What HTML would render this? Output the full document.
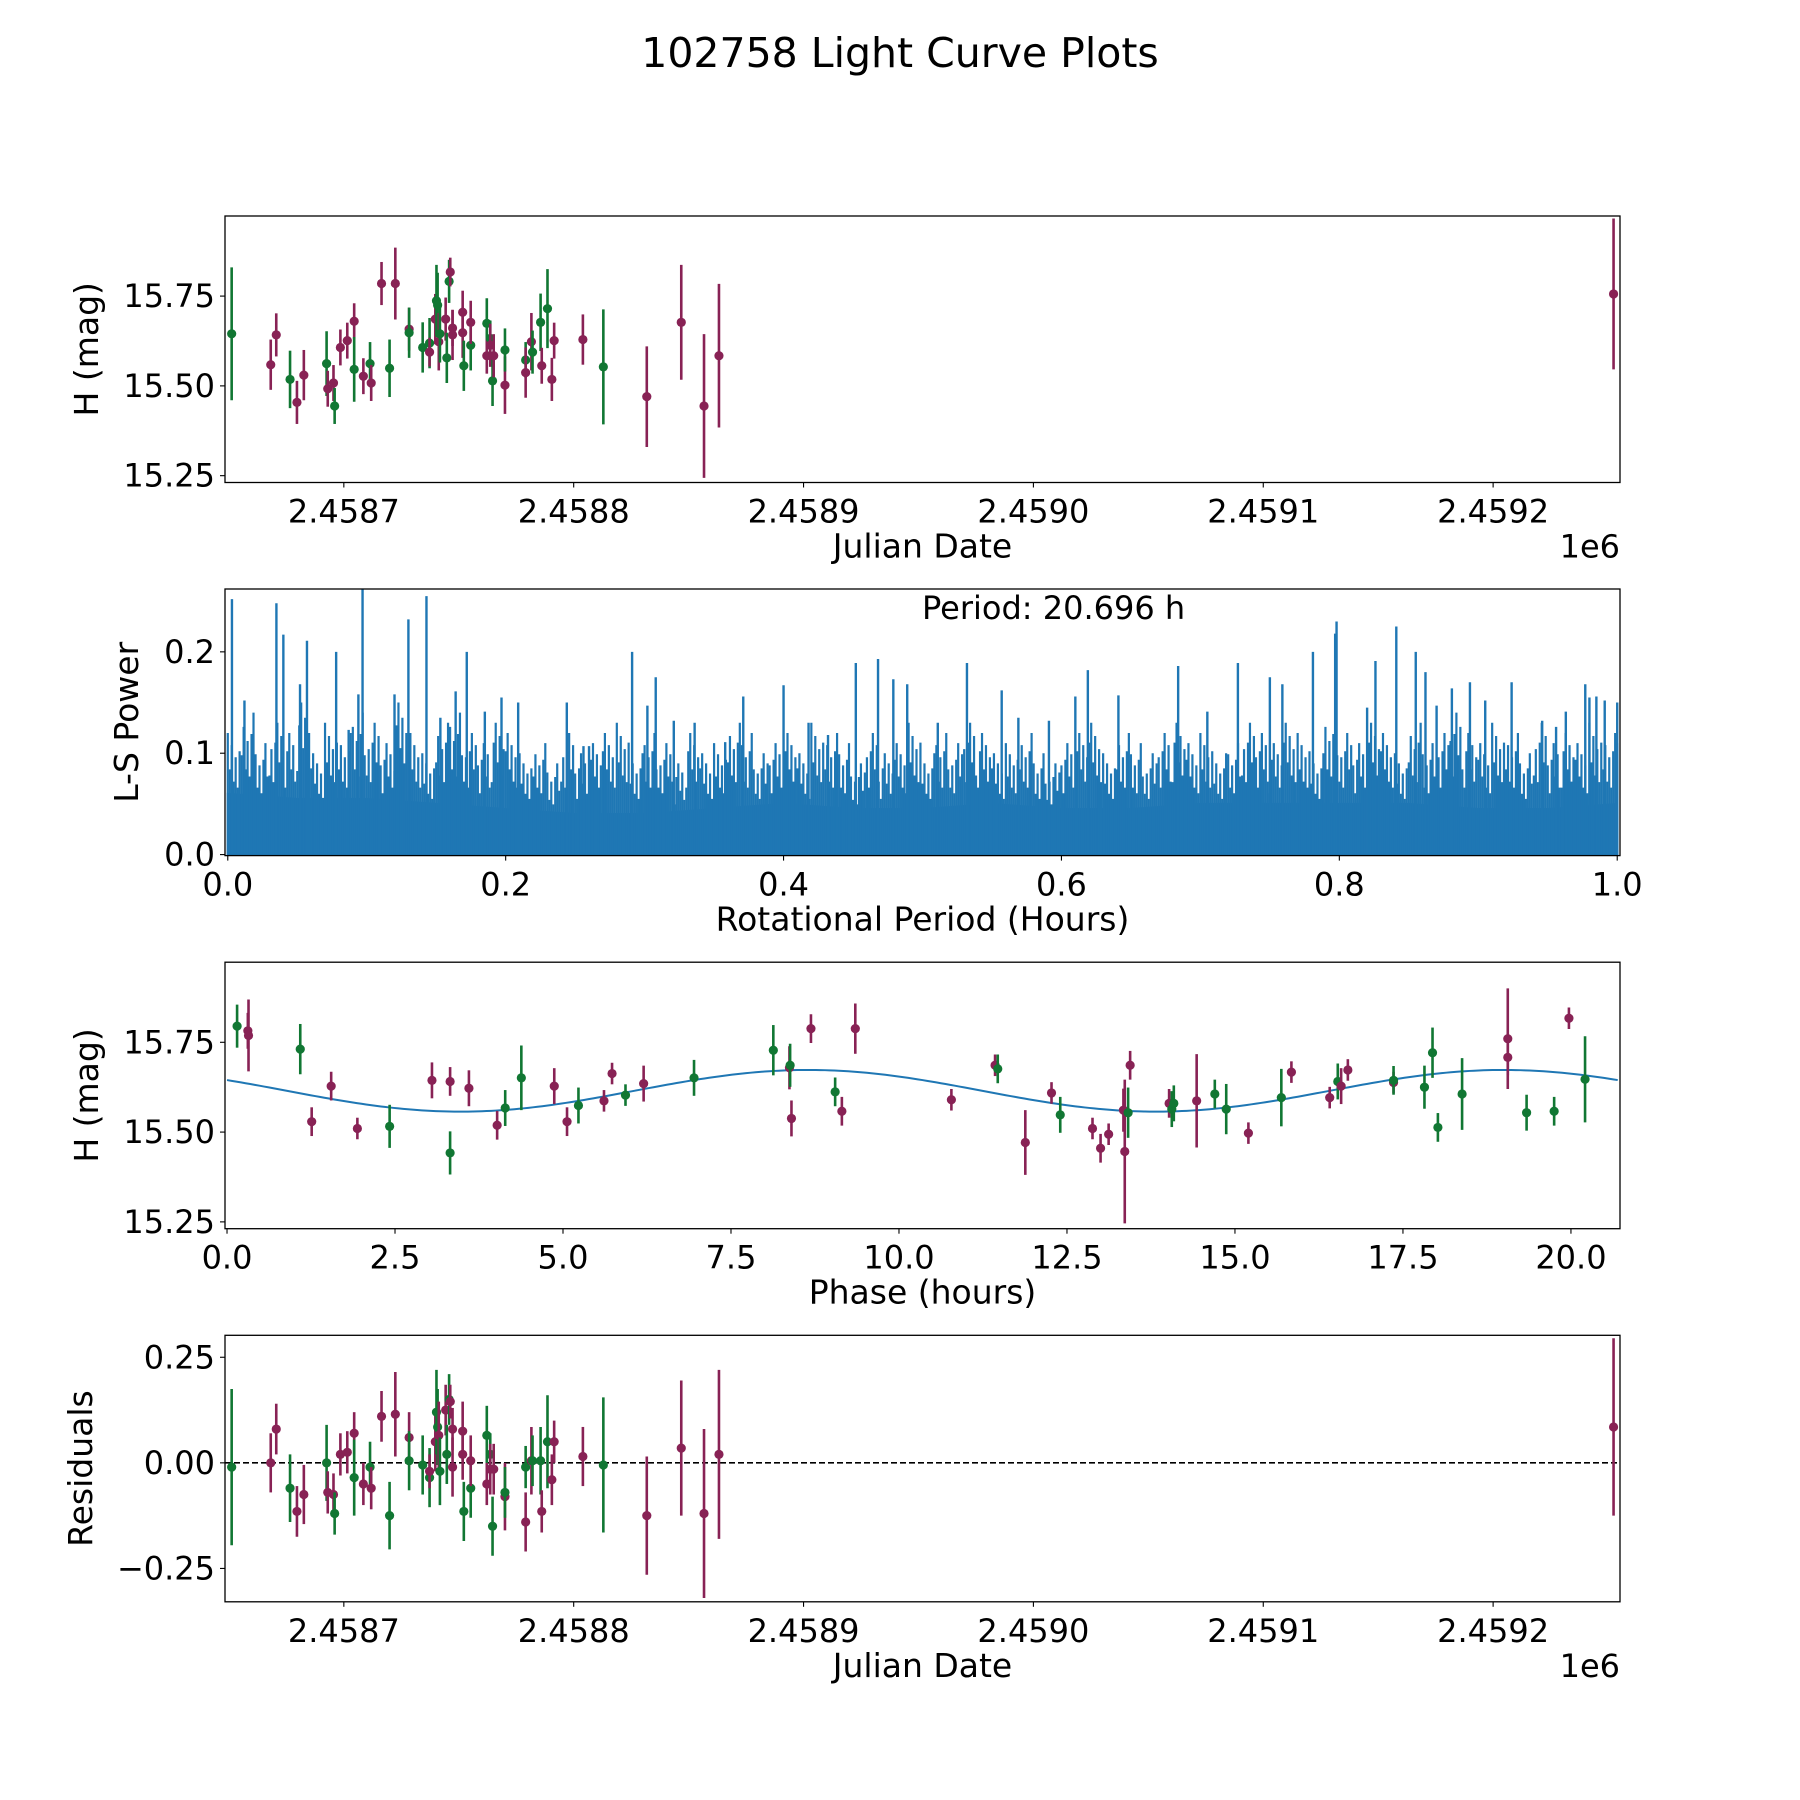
<!DOCTYPE html>
<html><head><meta charset="utf-8"><style>
html,body{margin:0;padding:0;background:#fff;}
svg{display:block;font-family:"DejaVu Sans","Liberation Sans",sans-serif;}
</style></head><body>
<svg id="fig" width="1800" height="1800" viewBox="0 0 1800 1800" xmlns="http://www.w3.org/2000/svg">
<rect width="1800" height="1800" fill="#fff"/>
<text x="900" y="67" font-size="41" text-anchor="middle">102758 Light Curve Plots</text>
</svg>
<script>
// ---- Light curve data (Julian Date, H mag, error, filter) ----
const jd = [2458651.2,2458668.2,2458670.6,2458676.6,2458679.6,2458682.6,2458692.5,2458693.0,2458695.5,2458696.0,2458698.5,2458701.5,2458704.5,2458704.5,2458708.5,2458711.4,2458711.9,2458716.4,2458719.9,2458722.4,2458728.4,2458728.4,2458734.3,2458737.3,2458737.3,2458739.8,2458740.3,2458740.8,2458741.3,2458741.8,2458744.3,2458744.8,2458745.8,2458746.3,2458747.3,2458747.3,2458751.7,2458751.7,2458752.2,2458755.2,2458755.2,2458762.2,2458762.2,2458763.7,2458763.7,2458764.7,2458765.2,2458770.1,2458770.1,2458779.1,2458779.1,2458781.6,2458782.1,2458785.6,2458786.1,2458788.6,2458790.5,2458791.5,2458804.0,2458812.9,2458831.8,2458846.8,2458856.7,2458863.2,2459252.4];
const hmag = [15.645,15.559,15.642,15.518,15.454,15.530,15.562,15.492,15.508,15.444,15.607,15.626,15.680,15.546,15.527,15.562,15.508,15.785,15.549,15.785,15.658,15.648,15.607,15.619,15.594,15.686,15.737,15.725,15.623,15.645,15.686,15.578,15.791,15.817,15.661,15.642,15.648,15.705,15.556,15.613,15.677,15.674,15.584,15.632,15.613,15.514,15.584,15.502,15.600,15.572,15.537,15.623,15.594,15.677,15.556,15.715,15.518,15.626,15.629,15.553,15.470,15.677,15.444,15.584,15.756];
const herr = [0.185,0.07,0.06,0.08,0.06,0.07,0.09,0.05,0.05,0.05,0.05,0.05,0.05,0.09,0.05,0.06,0.05,0.06,0.08,0.1,0.06,0.07,0.07,0.07,0.04,0.07,0.1,0.09,0.08,0.08,0.06,0.07,0.06,0.04,0.05,0.07,0.07,0.06,0.07,0.07,0.06,0.07,0.05,0.05,0.06,0.07,0.06,0.08,0.06,0.05,0.07,0.08,0.06,0.08,0.05,0.11,0.06,0.05,0.07,0.16,0.14,0.16,0.2,0.2,0.21];
const filt = ["g","m","m","g","m","m","g","m","m","g","m","m","m","g","m","g","m","m","g","m","m","g","g","g","m","m","g","g","m","g","m","g","g","m","m","m","m","m","g","g","m","g","m","g","m","g","m","m","g","g","m","m","g","g","m","g","m","m","m","g","m","m","m","m","m"];
const resid = [-0.01,0.0,0.08,-0.06,-0.115,-0.075,0.0,-0.07,-0.075,-0.12,0.02,0.025,0.07,-0.035,-0.05,-0.01,-0.06,0.11,-0.125,0.115,0.06,0.005,-0.005,-0.035,-0.02,0.05,0.12,0.085,0.065,-0.02,0.125,0.02,0.15,0.145,0.08,-0.01,0.075,0.02,-0.115,-0.06,0.005,0.065,-0.05,0.02,-0.015,-0.15,-0.015,-0.08,-0.07,-0.01,-0.14,0.005,0.005,0.005,-0.115,0.05,-0.04,0.05,0.015,-0.005,-0.125,0.035,-0.12,0.02,0.085];
// ---- Phased data ----
const phase = [0.15,0.31,0.32,1.09,1.26,1.55,1.94,2.42,3.05,3.32,3.32,3.60,4.02,4.14,4.38,4.87,5.06,5.23,5.61,5.73,5.93,6.20,6.95,8.13,8.37,8.38,8.40,8.69,9.05,9.15,9.35,10.78,11.43,11.47,11.88,12.27,12.40,12.88,13.00,13.12,13.34,13.36,13.41,13.44,14.02,14.06,14.09,14.43,14.70,14.87,15.20,15.69,15.84,16.41,16.53,16.58,16.68,17.36,17.36,17.82,17.94,18.02,18.38,19.06,19.06,19.34,19.75,19.97,20.21];
const phaseH = [15.795,15.782,15.769,15.731,15.529,15.628,15.510,15.516,15.644,15.641,15.442,15.622,15.519,15.567,15.651,15.628,15.529,15.574,15.587,15.663,15.603,15.635,15.651,15.728,15.679,15.686,15.538,15.788,15.612,15.558,15.788,15.590,15.686,15.676,15.471,15.609,15.548,15.510,15.455,15.494,15.561,15.446,15.554,15.686,15.580,15.564,15.580,15.587,15.606,15.564,15.497,15.596,15.667,15.596,15.641,15.628,15.673,15.638,15.644,15.625,15.721,15.513,15.606,15.760,15.708,15.554,15.558,15.817,15.647];
const phaseErr = [0.06,0.05,0.1,0.07,0.04,0.04,0.03,0.06,0.05,0.04,0.06,0.05,0.04,0.05,0.09,0.05,0.04,0.05,0.03,0.03,0.03,0.05,0.05,0.07,0.06,0.06,0.05,0.04,0.04,0.04,0.07,0.03,0.03,0.04,0.09,0.03,0.05,0.03,0.04,0.03,0.06,0.2,0.07,0.04,0.04,0.05,0.05,0.13,0.04,0.07,0.03,0.08,0.03,0.03,0.05,0.05,0.03,0.03,0.04,0.06,0.07,0.04,0.1,0.14,0.05,0.05,0.04,0.03,0.12];
const phaseFilt = ["g","m","m","g","m","m","m","g","m","m","g","m","m","g","g","m","m","g","m","m","g","m","g","g","m","g","m","m","g","m","m","m","m","g","m","m","g","m","m","m","m","m","g","m","m","g","g","m","g","g","m","g","m","m","g","m","m","m","g","g","g","g","g","m","m","g","g","m","g"];
// ---- Fit model parameters ----
const modelOffset = 15.615, modelAmp = 0.058, modelHalfPeriod = 10.348, modelPeak = 8.65, foldPeriod = 20.696;
// ---- Periodogram ----
const lsBandPeriod = [0,0.05,0.1,0.15,0.2,0.25,0.3,0.35,0.4,0.45,0.5,0.55,0.6,0.65,0.7,0.75,0.8,0.85,0.9,0.95,1.0];
const lsBandPower = [0.06,0.055,0.055,0.05,0.045,0.04,0.04,0.045,0.05,0.045,0.045,0.05,0.045,0.045,0.05,0.05,0.05,0.05,0.045,0.045,0.05];
const lsMidPower = [0.12,0.14,0.11,0.13,0.12,0.15,0.1,0.13,0.12,0.14,0.13,0.11,0.15,0.12,0.1,0.13,0.14,0.12,0.11,0.13,0.12,0.1,0.11,0.09,0.12,0.1,0.11,0.12,0.13,0.1,0.12,0.11,0.09,0.12,0.1,0.11,0.13,0.12,0.1,0.11,0.12,0.1,0.13,0.12,0.11,0.09,0.12,0.1,0.11,0.13,0.1,0.12,0.11,0.13,0.12,0.1,0.11,0.12,0.1,0.09,0.11,0.12,0.13,0.1,0.12,0.11,0.1,0.12,0.13,0.11,0.12,0.1,0.11,0.13,0.12,0.11,0.13,0.12,0.1,0.14,0.12,0.11,0.13,0.12,0.1,0.13,0.11,0.12,0.14,0.12,0.11,0.13,0.12,0.1,0.13,0.11,0.12,0.11,0.13,0.12,0.11];
const lsSpikePeriod = [0.003,0.012,0.035,0.04,0.052,0.057,0.078,0.087,0.094,0.097,0.12,0.13,0.143,0.153,0.164,0.172,0.185,0.197,0.209,0.244,0.256,0.26,0.291,0.302,0.308,0.321,0.336,0.358,0.371,0.4,0.418,0.432,0.452,0.468,0.479,0.489,0.511,0.532,0.557,0.569,0.591,0.61,0.619,0.641,0.684,0.705,0.727,0.75,0.759,0.781,0.797,0.798,0.82,0.826,0.841,0.855,0.862,0.87,0.881,0.894,0.905,0.924,0.946,0.956,0.963,0.977,0.98,0.985,0.991,1.0];
const lsSpikePower = [0.252,0.152,0.248,0.217,0.168,0.211,0.2,0.123,0.158,0.262,0.158,0.232,0.255,0.135,0.161,0.2,0.141,0.155,0.15,0.15,0.107,0.107,0.2,0.147,0.175,0.132,0.13,0.111,0.156,0.167,0.13,0.118,0.189,0.193,0.173,0.168,0.13,0.189,0.162,0.135,0.132,0.156,0.182,0.157,0.186,0.141,0.189,0.175,0.168,0.2,0.218,0.23,0.145,0.191,0.225,0.2,0.18,0.147,0.164,0.17,0.152,0.17,0.132,0.126,0.141,0.168,0.155,0.156,0.152,0.15];
const x1Ticks = [2458700,2458800,2458900,2459000,2459100,2459200];
const x1Labels = ["2.4587","2.4588","2.4589","2.4590","2.4591","2.4592"];
const hTicks = [15.25,15.5,15.75]; const hLabels = ["15.25","15.50","15.75"];
const lsXTicks = [0,0.2,0.4,0.6,0.8,1.0]; const lsXLabels = ["0.0","0.2","0.4","0.6","0.8","1.0"];
const lsYTicks = [0,0.1,0.2]; const lsYLabels = ["0.0","0.1","0.2"];
const phTicks = [0,2.5,5,7.5,10,12.5,15,17.5,20]; const phLabels = ["0.0","2.5","5.0","7.5","10.0","12.5","15.0","17.5","20.0"];
const resTicks = [-0.25,0,0.25]; const resLabels = ["\u22120.25","0.00","0.25"];

const NS = "http://www.w3.org/2000/svg";
const svg = document.getElementById("fig");
const COL = {g:"#117733", m:"#882255"};
const midShape = [1,0.7,0.9,0.6,0.8,0.55,0.85];
function mk(tag, attrs, parent){const e=document.createElementNS(NS,tag);for(const k in attrs)e.setAttribute(k,attrs[k]);(parent||svg).appendChild(e);return e;}
const L=225,R=1620;
function scale(d0,d1,p0,p1){return v=>p0+(v-d0)/(d1-d0)*(p1-p0);}

function makeAxes(name, top, bot, xlim, ylim, xt, xl, yt, yl, xlabel, ylabel, ylabX, offset){
  const g=mk("g",{});
  
  
  const sx=scale(xlim[0],xlim[1],L,R), sy=scale(ylim[0],ylim[1],bot,top);
  const clipId=name+"-clip";
  const cp=mk("clipPath",{id:clipId},g); mk("rect",{x:L,y:top,width:R-L,height:bot-top},cp);
  const plot=mk("g",{"clip-path":"url(#"+clipId+")"},g);
  xt.forEach((v,i)=>{const x=sx(v);
    mk("line",{x1:x,x2:x,y1:bot,y2:bot+5,stroke:"#000","stroke-width":1.1},g);
    const t=mk("text",{x:x,y:bot+40,"font-size":32,"text-anchor":"middle"},g);t.textContent=xl[i];
    
    });
  yt.forEach((v,i)=>{const y=sy(v);
    mk("line",{x1:L-5,x2:L,y1:y,y2:y,stroke:"#000","stroke-width":1.1},g);
    const t=mk("text",{x:L-10,y:y+11,"font-size":32,"text-anchor":"end"},g);t.textContent=yl[i];
    
    });
  const xlt=mk("text",{x:(L+R)/2,y:bot+75,"font-size":33,"text-anchor":"middle"},g);xlt.textContent=xlabel;
  
  
  const yc=(top+bot)/2;
  const ylt=mk("text",{x:ylabX,y:yc,"font-size":33,"text-anchor":"middle",transform:"rotate(-90 "+ylabX+" "+yc+")"},g);ylt.textContent=ylabel;
  
  
  if(offset){const o=mk("text",{x:R,y:bot+75,"font-size":32,"text-anchor":"end"},g);o.textContent=offset;
    
    }
  return {g,plot,sx,sy,frame:()=>mk("rect",{x:L,y:top,width:R-L,height:bot-top,fill:"none",stroke:"#000","stroke-width":1.3},g)};
}
function errPoints(ax, xs, ys, es, fs, label){
  xs.forEach((x,i)=>{const px=ax.sx(x), py=ax.sy(ys[i]);
    const ln=mk("line",{x1:px,x2:px,y1:ax.sy(ys[i]-es[i]),y2:ax.sy(ys[i]+es[i]),stroke:COL[fs[i]],"stroke-width":2.6},ax.plot);
    
    
    const c=mk("circle",{cx:px,cy:py,r:4.6,fill:COL[fs[i]]},ax.plot);
    
    
  });
}
const jdLim=[2458648.3,2459255.2], hLim=[15.231,15.973];

// Axes 1: light curve
const a1=makeAxes("light-curve-axes",216,482.5,jdLim,hLim,x1Ticks,x1Labels,hTicks,hLabels,"Julian Date","H (mag)",98,"1e6");
errPoints(a1,jd,hmag,herr,filt,"light-curve"); a1.frame();

// Axes 2: periodogram
const a2=makeAxes("periodogram-axes",589,855.6,[-0.002,1.002],[-0.001,0.262],lsXTicks,lsXLabels,lsYTicks,lsYLabels,"Rotational Period (Hours)","L-S Power",138,null);
{ let d="M"+a2.sx(lsBandPeriod[0])+","+a2.sy(0);
  lsBandPeriod.forEach((p,i)=>{d+=" L"+a2.sx(p)+","+a2.sy(lsBandPower[i]);});
  d+=" L"+a2.sx(lsBandPeriod[lsBandPeriod.length-1])+","+a2.sy(0)+" Z";
  const band=mk("path",{d:d,fill:"#1f77b4",stroke:"#1f77b4","stroke-width":2},a2.plot);
  
  
  lsMidPower.forEach((p,i)=>{const per=i/(lsMidPower.length-1); for(let k=0;k<midShape.length;k++){const x=a2.sx(Math.min(1,per+k*0.00142));
    const ln=mk("line",{x1:x,x2:x,y1:a2.sy(0),y2:a2.sy(p*midShape[(k+i)%midShape.length]),stroke:"#1f77b4","stroke-width":2.2},a2.plot);
    
    }});
  lsSpikePeriod.forEach((per,i)=>{const x=a2.sx(per);
    const ln=mk("line",{x1:x,x2:x,y1:a2.sy(0),y2:a2.sy(lsSpikePower[i]),stroke:"#1f77b4","stroke-width":2.4},a2.plot);
    
    });
  const pt=mk("text",{x:922,y:619,"font-size":32},a2.g);pt.textContent="Period: "+foldPeriod.toFixed(3)+" h";
  
  
}
a2.frame();

// Axes 3: phased curve
const a3=makeAxes("phase-axes",962.2,1228.7,[-0.03,20.73],hLim,phTicks,phLabels,hTicks,hLabels,"Phase (hours)","H (mag)",98,null);
{ let d=""; for(let i=0;i<=300;i++){const ph=foldPeriod*i/300;
    const v=modelOffset+modelAmp*Math.cos(2*Math.PI*(ph-modelPeak)/modelHalfPeriod);
    d+=(i?" L":"M")+a3.sx(ph)+","+a3.sy(v);}
  const m=mk("path",{d:d,fill:"none",stroke:"#1f77b4","stroke-width":2},a3.plot);
  
  
}
errPoints(a3,phase,phaseH,phaseErr,phaseFilt,"phase"); a3.frame();

// Axes 4: residuals
const a4=makeAxes("residuals-axes",1335.3,1601.8,jdLim,[-0.329,0.302],x1Ticks,x1Labels,resTicks,resLabels,"Julian Date","Residuals",92,"1e6");
{ const z=mk("line",{x1:L,x2:R,y1:a4.sy(0),y2:a4.sy(0),stroke:"#000","stroke-width":1.6,"stroke-dasharray":"6,3"},a4.plot);
  
   }
errPoints(a4,jd,resid,herr,filt,"residual"); a4.frame();
</script>
</body></html>
